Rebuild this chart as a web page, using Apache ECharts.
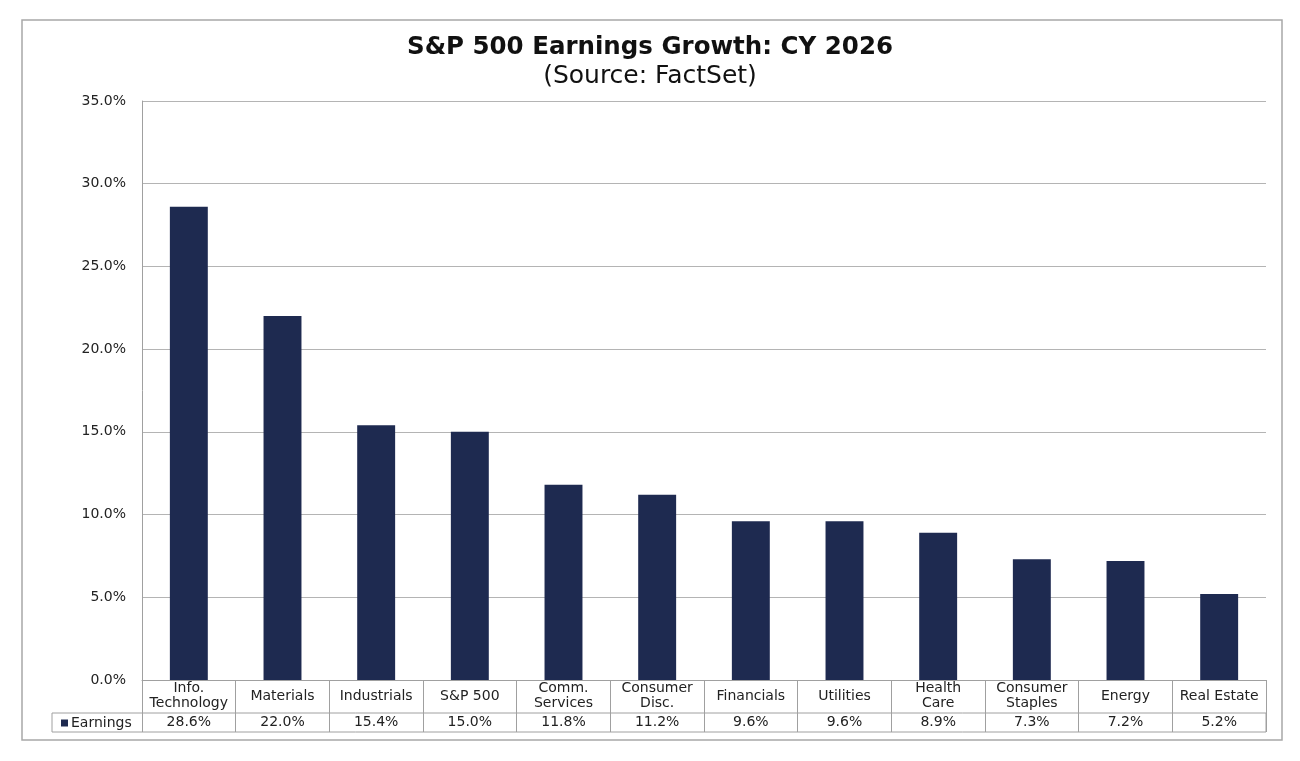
<!DOCTYPE html>
<html>
<head>
<meta charset="utf-8">
<script src="https://cdn.jsdelivr.net/npm/echarts@6/dist/echarts.min.js"></script>
<style>html,body{margin:0;padding:0;background:#fff;}#c{width:1300px;height:761px;}</style>
</head>
<body>
<div id="c"></div>
<script>
var categories = ['Info.\nTechnology','Materials','Industrials','S&P 500','Comm.\nServices','Consumer\nDisc.','Financials','Utilities','Health\nCare','Consumer\nStaples','Energy','Real Estate'];
var earnings = [28.6, 22.0, 15.4, 15.0, 11.8, 11.2, 9.6, 9.6, 8.9, 7.3, 7.2, 5.2];
var yTicks = [0, 5, 10, 15, 20, 25, 30, 35];
var seriesName = 'Earnings';

var chart = echarts.init(document.getElementById('c'));
var font = 'DejaVu Sans, Liberation Sans, Arial, sans-serif';
chart.setOption({
  animation: false,
  backgroundColor: '#fff',
  title: {
    text: 'S&P 500 Earnings Growth: CY 2026',
    subtext: '(Source: FactSet)',
    left: 'center',
    top: 30,
    itemGap: 4,
    textStyle: {fontFamily: font, fontSize: 24.5, fontWeight: 'bold', color: '#111'},
    subtextStyle: {fontFamily: font, fontSize: 25, color: '#111'}
  },
  legend: {
    data: [seriesName],
    left: 56,
    top: 711,
    icon: 'rect',
    itemWidth: 7,
    itemHeight: 7,
    itemGap: 4,
    textStyle: {fontFamily: font, fontSize: 14, color: '#222', padding: [0,0,0,-2]}
  },
  grid: {left: 142, right: 34, top: 101, bottom: 81, containLabel: false},
  xAxis: [{
    type: 'category',
    data: categories,
    position: 'bottom',
    axisLine: {show: true, lineStyle: {color: '#a0a0a0', width: 1}},
    axisTick: {show: true, interval: 0, length: 52, lineStyle: {color: '#a0a0a0'}},
    axisLabel: {interval: 0, margin: 16, verticalAlign: 'middle', fontFamily: font, fontSize: 14, lineHeight: 15, color: '#222'},
    splitLine: {show: false}
  }, {
    type: 'category',
    data: categories,
    position: 'bottom',
    offset: 34,
    axisLine: {show: false},
    axisTick: {show: false},
    axisLabel: {interval: 0, margin: 8, verticalAlign: 'middle', fontFamily: font, fontSize: 14, color: '#222',
      formatter: function (v, i) { return earnings[i].toFixed(1) + '%'; }}
  }],
  yAxis: {
    type: 'value',
    min: yTicks[0],
    max: yTicks[yTicks.length - 1],
    interval: 5,
    axisLine: {show: true, lineStyle: {color: '#a0a0a0'}},
    axisTick: {show: false},
    axisLabel: {margin: 16, fontFamily: font, fontSize: 14, color: '#222',
      formatter: function (v) { return v.toFixed(1) + '%'; }},
    splitLine: {lineStyle: {color: '#b4b4b4', width: 1.2}}
  },
  series: [{
    name: seriesName,
    type: 'bar',
    data: earnings,
    barWidth: '40.5%',
    itemStyle: {color: '#1e2a50'}
  }],
  graphic: [
    {type: 'rect', shape: {x: 22, y: 20, width: 1260, height: 720}, style: {fill: 'none', stroke: '#a8a8a8', lineWidth: 1.5}, silent: true},
    {type: 'rect', shape: {x: 52, y: 713, width: 1214, height: 19}, style: {fill: 'none', stroke: '#a0a0a0', lineWidth: 1}, silent: true}
  ]
});
</script>
</body>
</html>
